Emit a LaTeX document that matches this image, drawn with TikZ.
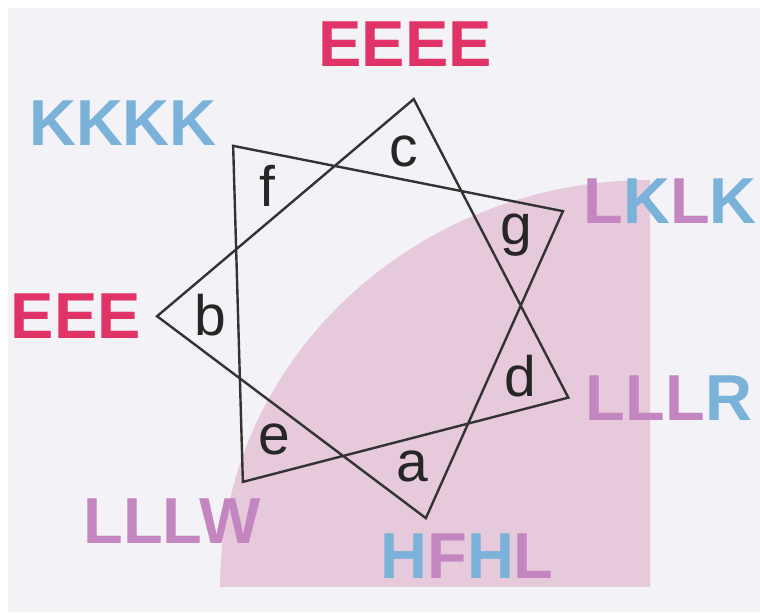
\documentclass[tikz,border=0pt]{standalone}
\usepackage{fontspec}
\setmainfont{Liberation Sans}
\definecolor{haikei}{RGB}{243,243,247}
\definecolor{usupink}{RGB}{230,201,219}
\definecolor{aka}{RGB}{224,52,104}
\definecolor{ao}{RGB}{122,178,218}
\definecolor{murasaki}{RGB}{196,134,192}

\begin{document}
\begin{tikzpicture}[x=1bp, y=1bp,
	hen/.style={line width=2.4bp, draw=black!80},
	moji/.style={inner sep=0pt, text=black!85, font=\fontsize{57bp}{60bp}\selectfont},
	midasi/.style={inner sep=0pt, font=\fontsize{65bp}{70bp}\selectfont\bfseries}]
%	1bp = 1 pixel
	\useasboundingbox (0, 0) rectangle (760, 615);
	\fill[haikei](8, 3) rectangle (760, 607); %背景
	\fill[usupink](650, 28)-- (220, 28) arc[start angle= 180, end angle= 90, x radius= 430, y radius= 407]-- cycle; %右下の扇形
	\begin{scope}[shift= {(372, 305)}]
		\foreach \l [count= \k from 0] in {c, f, b, e, a, d, g}{
			\coordinate (v\k) at ({78.8+\k*360/7}: 215); %頂点
			\node[moji] (\l) at ({78.8+\k*360/7}: 162) {\l}; %角の文字
		}
		\draw[hen](v0)-- (v2)-- (v4)-- (v6)-- (v1)-- (v3)-- (v5)-- cycle; %七芒星
	\end{scope}
	\node[midasi, text= aka] (ue) at (405, 571) {EEEE}; %上
	\node[midasi, text= ao] (hidariue) at (123, 492) {KKKK}; %左上
	\node[midasi] (migiue) at (670, 414) {{\color{murasaki}L}{\color{ao}K}{\color{murasaki}L}{\color{ao}K}}; %右上
	\node[midasi, text= aka] (hidari) at (76, 299) {EEE}; %左
	\node[midasi] (migisita) at (669, 217) {{\color{murasaki}LLL}{\color{ao}R}}; %右下
	\node[midasi, text= murasaki] (hidarisita) at (172, 94) {LLLW}; %左下
	\node[midasi] (sita) at (467, 59) {{\color{ao}H}{\color{murasaki}F}{\color{ao}H}{\color{murasaki}L}}; %下
\end{tikzpicture}
\end{document}
